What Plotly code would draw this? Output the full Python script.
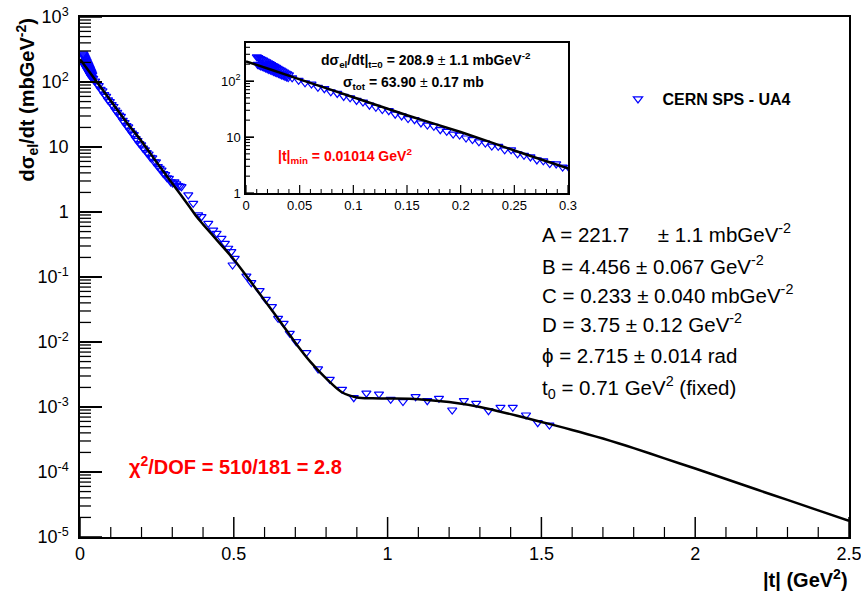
import plotly.graph_objects as go

# ---------------- data ----------------
t_data = [
    0.0101, 0.0108, 0.0115, 0.0123, 0.0130, 0.0138, 0.0145, 0.0153, 0.0160, 0.0168,
    0.0175, 0.0183, 0.0190, 0.0198, 0.0205, 0.0213, 0.0220, 0.0228, 0.0235, 0.0243,
    0.0250, 0.0258, 0.0265, 0.0273, 0.0280, 0.0288, 0.0295, 0.0303, 0.0310, 0.0318,
    0.0325, 0.0333, 0.0340, 0.0348, 0.0355, 0.0363, 0.0370, 0.0378, 0.0385, 0.0393,
    0.0400,
    0.043, 0.049, 0.055, 0.061, 0.067, 0.073, 0.079, 0.085, 0.091, 0.097,
    0.103, 0.109, 0.115, 0.121, 0.127, 0.133, 0.139, 0.145, 0.151, 0.157,
    0.163, 0.169, 0.175, 0.181, 0.187, 0.193, 0.199, 0.205, 0.211, 0.217,
    0.223, 0.229, 0.235, 0.241, 0.247, 0.253, 0.259, 0.265, 0.271, 0.277,
    0.283, 0.289, 0.295, 0.301, 0.307, 0.313, 0.319, 0.325,
    0.330, 0.352, 0.368, 0.384, 0.395, 0.417, 0.433, 0.444, 0.460, 0.471,
    0.482, 0.492, 0.496, 0.503, 0.541, 0.557, 0.584, 0.604, 0.624, 0.644,
    0.662, 0.682, 0.703, 0.736, 0.774, 0.812, 0.852, 0.890, 0.931, 0.972,
    1.010, 1.050, 1.091, 1.129, 1.167, 1.210, 1.248, 1.288, 1.328, 1.367,
    1.407, 1.450, 1.488, 1.526,
]
dsdt_data = [
    270, 198, 262, 192, 252, 186, 244, 181, 236, 176,
    228, 171, 220, 166, 212, 161, 204, 157, 196, 152,
    189, 148, 182, 144, 175, 140, 168, 136, 162, 132,
    156, 128, 150, 125, 145, 121, 139, 118, 134, 115,
    129,
    114, 103, 93, 88, 77, 73, 64, 60, 53, 50,
    45, 42, 37, 34, 31, 29.5, 25.6, 23.8, 21.3, 20.4,
    17.8, 16.3, 15.5, 13.5, 12.6, 11.3, 10.8, 9.6, 9.0, 8.2,
    7.8, 6.9, 6.8, 5.9, 5.9, 5.0, 4.7, 4.4, 3.9, 3.75,
    3.35, 3.3, 2.9, 2.8, 2.9, 2.7, 2.55, 2.5,
    2.45, 1.83, 1.36, 0.90, 0.847, 0.670, 0.528, 0.470, 0.394, 0.330,
    0.277, 0.245, 0.153, 0.194, 0.1035, 0.0817, 0.0617, 0.0454, 0.0349, 0.0231,
    0.0194, 0.0136, 0.0101, 0.00686, 0.00385, 0.00267, 0.00187, 0.00139, 0.00163, 0.00158,
    0.00131, 0.00121, 0.00144, 0.00125, 0.00136, 0.000899, 0.00125, 0.00114, 0.000877, 0.000989,
    0.000989, 0.000753, 0.000574, 0.000528,
]

fit_t = [0, 0.025, 0.05, 0.1, 0.15, 0.2, 0.25, 0.3, 0.35, 0.38,
         0.4, 0.45, 0.5, 0.55, 0.6, 0.65, 0.7, 0.75, 0.8, 0.85,
         0.9, 0.95, 1.0, 1.1, 1.2, 1.3, 1.4, 1.45, 1.5, 1.55,
         1.6, 1.65, 1.7, 1.75, 1.8, 1.9, 2.0, 2.1, 2.2, 2.3,
         2.4, 2.5]
fit_y = [224, 156, 107, 51.3, 24.5, 12.3, 5.75, 2.75, 1.32, 0.838,
         0.646, 0.347, 0.186, 0.0912, 0.0437, 0.0209, 0.00977, 0.0049, 0.00275, 0.0017,
         0.0014, 0.00136, 0.00135, 0.00132, 0.00119, 0.001, 0.000776, 0.000676, 0.000589, 0.000513,
         0.000443, 0.000382, 0.000327, 0.000277, 0.000233, 0.000162, 0.000113, 7.8e-5, 5.37e-5, 3.72e-5,
         2.57e-5, 1.78e-5]

x_tick_vals = [0, 0.5, 1, 1.5, 2, 2.5]
x_tick_text = ["0", "0.5", "1", "1.5", "2", "2.5"]
y_tick_vals = [1e-5, 1e-4, 1e-3, 1e-2, 1e-1, 1, 10, 100, 1000]
y_tick_text = ["10<sup>-5</sup>", "10<sup>-4</sup>", "10<sup>-3</sup>", "10<sup>-2</sup>",
               "10<sup>-1</sup>", "1", "10", "10<sup>2</sup>", "10<sup>3</sup>"]
inset_x_vals = [0, 0.05, 0.1, 0.15, 0.2, 0.25, 0.3]
inset_x_text = ["0", "0.05", "0.1", "0.15", "0.2", "0.25", "0.3"]
inset_y_vals = [1, 10, 100]
inset_y_text = ["1", "10", "10<sup>2</sup>"]

legend_name = "\u00a0<b>CERN SPS - UA4</b>"
param_lines = [
    "A = 221.7\u00a0\u00a0\u00a0\u00a0 ± 1.1 mbGeV<sup>-2</sup>",
    "B = 4.456 ± 0.067 GeV<sup>-2</sup>",
    "C = 0.233 ± 0.040 mbGeV<sup>-2</sup>",
    "D = 3.75 ± 0.12 GeV<sup>-2</sup>",
    "ϕ = 2.715 ± 0.014 rad",
    "t<sub>0</sub> = 0.71 GeV<sup>2</sup> (fixed)",
]

# ---------------- style ----------------
FONT = "Liberation Sans, Arial, Helvetica, sans-serif"
BLUE = "rgb(0,0,255)"
RED = "rgb(255,0,0)"

W, H = 861, 595
L, R, T, B = 80, 12, 17, 58
PW, PH = W - L - R, H - T - B

X_RANGE = [0, 2.5]
Y_RANGE = [-5, 3]          # log10
X2_RANGE = [0, 0.3]
Y2_RANGE = [0, 2.679]      # log10


def px(x):
    return (x - L) / PW


def py(y):
    return (H - B - y) / PH


MAIN_DOM_X = [0, 1]
MAIN_DOM_Y = [0, 1]
INS_DOM_X = [px(246), px(568)]
INS_DOM_Y = [py(193), py(43)]


def log_minors(lo, hi, top=None):
    vals = []
    for e in range(lo, hi):
        for m in range(2, 10):
            v = m * 10 ** e
            if top is None or v <= top:
                vals.append(v)
    return vals


def lin_minors(lo, hi, step, major):
    n = int(round((hi - lo) / step))
    out = []
    for i in range(n + 1):
        v = round(lo + i * step, 6)
        if abs(v / major - round(v / major)) > 1e-6:
            out.append(v)
    return out


def xticks(vals, rng, xr, yr, length, width):
    # inward ticks on a bottom axis, drawn in axis-domain coordinates
    out = []
    for v in vals:
        f = (v - rng[0]) / (rng[1] - rng[0])
        out.append(dict(type="line", xref=xr + " domain", yref=yr + " domain",
                        x0=f, x1=f, ysizemode="pixel", yanchor=0, y0=0, y1=length,
                        line=dict(color="black", width=width)))
    return out


def ytick_trace(vals, xrng, dom_x, length_px, width, xa, ya):
    # inward ticks on a left axis, as short line segments in data space
    plot_w = (dom_x[1] - dom_x[0]) * PW
    dx = length_px / plot_w * (xrng[1] - xrng[0])
    xs, ys = [], []
    for v in vals:
        xs += [xrng[0], xrng[0] + dx, None]
        ys += [v, v, None]
    return go.Scatter(x=xs, y=ys, mode="lines", line=dict(color="black", width=width),
                      showlegend=False, hoverinfo="skip", xaxis=xa, yaxis=ya,
                      cliponaxis=False)


fig = go.Figure()

marker = dict(symbol="triangle-down-open", size=8, color=BLUE, line=dict(color=BLUE, width=1.2))

fig.add_trace(go.Scatter(x=t_data, y=dsdt_data, mode="markers", marker=marker,
                         name=legend_name, showlegend=True, xaxis="x", yaxis="y"))
fig.add_trace(go.Scatter(x=fit_t, y=fit_y, mode="lines",
                         line=dict(color="black", width=2.5, shape="spline", smoothing=0.8),
                         showlegend=False, xaxis="x", yaxis="y"))

ins_t = [t for t in t_data if t <= 0.305]
ins_y = [y for t, y in zip(t_data, dsdt_data) if t <= 0.305]
fit_ins_t = [t for t in fit_t if t <= 0.35]
fit_ins_y = [y for t, y in zip(fit_t, fit_y) if t <= 0.35]
fig.add_trace(go.Scatter(x=ins_t, y=ins_y, mode="markers", marker=marker,
                         showlegend=False, xaxis="x2", yaxis="y2"))
fig.add_trace(go.Scatter(x=fit_ins_t, y=fit_ins_y, mode="lines",
                         line=dict(color="black", width=2.5, shape="spline", smoothing=0.5),
                         showlegend=False, xaxis="x2", yaxis="y2"))

# y-axis tick marks (major + minor) for main plot and inset
fig.add_trace(ytick_trace(y_tick_vals, X_RANGE, MAIN_DOM_X, 22, 1.6, "x", "y"))
fig.add_trace(ytick_trace(log_minors(-5, 3), X_RANGE, MAIN_DOM_X, 11, 1.3, "x", "y"))
fig.add_trace(ytick_trace(inset_y_vals, X2_RANGE, INS_DOM_X, 8, 1.3, "x2", "y2"))
fig.add_trace(ytick_trace(log_minors(0, 3, top=470), X2_RANGE, INS_DOM_X, 4, 1.1, "x2", "y2"))

axis_common = dict(showgrid=False, zeroline=False, showline=True, linecolor="black",
                   mirror=True, automargin=False, ticklabeloverflow="allow")

fig.update_layout(
    template="none",
    width=W, height=H,
    margin=dict(l=L, r=R, t=T, b=B, autoexpand=False),
    paper_bgcolor="white", plot_bgcolor="rgba(0,0,0,0)",
    font=dict(family=FONT, color="black"),
    xaxis=dict(domain=MAIN_DOM_X, anchor="y", range=X_RANGE, tickmode="array",
               tickvals=x_tick_vals, ticktext=x_tick_text, ticks="",
               linewidth=1.5, tickfont=dict(size=18), ticklabelstandoff=0, **axis_common),
    yaxis=dict(domain=MAIN_DOM_Y, anchor="x", type="log", range=Y_RANGE, tickmode="array",
               tickvals=y_tick_vals, ticktext=y_tick_text, ticks="inside", ticklen=22,
               tickwidth=1.5, tickcolor="black",
               linewidth=1.5, tickfont=dict(size=18), ticklabelstandoff=6, **axis_common),
    xaxis2=dict(domain=INS_DOM_X, anchor="y2", range=X2_RANGE, tickmode="array",
                tickvals=inset_x_vals, ticktext=inset_x_text, ticks="",
                linewidth=1.5, tickfont=dict(size=13), ticklabelstandoff=0, **axis_common),
    yaxis2=dict(domain=INS_DOM_Y, anchor="x2", type="log", range=Y2_RANGE,
                tickmode="array", tickvals=inset_y_vals, ticktext=inset_y_text,
                ticks="inside", ticklen=8, tickwidth=1.2, tickcolor="black",
                linewidth=1.5, tickfont=dict(size=13), ticklabelstandoff=1, **axis_common),
    legend=dict(x=px(618), y=py(99), xanchor="left", yanchor="middle",
                bgcolor="rgba(0,0,0,0)", font=dict(size=16, family=FONT),
                itemwidth=30),
    showlegend=True,
)

shapes = []
shapes += xticks(x_tick_vals, X_RANGE, "x", "y", 20, 1.5)
shapes += xticks(lin_minors(0, 2.5, 0.1, 0.5), X_RANGE, "x", "y", 10, 1.2)
shapes += xticks(inset_x_vals, X2_RANGE, "x2", "y2", 8, 1.2)
shapes += xticks(lin_minors(0, 0.3, 0.01, 0.05), X2_RANGE, "x2", "y2", 4, 1.0)
fig.update_layout(shapes=shapes)

ann = []
ann.append(dict(text="<b>dσ<sub>el</sub>/dt (mbGeV<sup>-2</sup>)</b>", textangle=-90,
                x=px(27), y=py(17), xanchor="center", yanchor="top",
                font=dict(size=20)))
ann.append(dict(text="<b>|t| (GeV<sup>2</sup>)</b>", x=px(850), y=py(578),
                xanchor="right", yanchor="middle", font=dict(size=20)))
ann.append(dict(text="<b>dσ<sub>el</sub>/dt|<sub>t=0</sub> = 208.9</b> ± <b>1.1 mbGeV<sup>-2</sup></b>",
                x=px(319), y=py(60), xanchor="left", yanchor="middle", font=dict(size=14)))
ann.append(dict(text="<b>σ<sub>tot</sub> = 63.90</b> ± <b>0.17 mb</b>",
                x=px(341), y=py(83), xanchor="left", yanchor="middle", font=dict(size=14)))
ann.append(dict(text="<b>|t|<sub>min</sub> = 0.01014 GeV<sup>2</sup></b>",
                x=px(276), y=py(156), xanchor="left", yanchor="middle",
                font=dict(size=14, color=RED)))
param_y = [233, 265, 294, 323, 355, 387]
for txt, yy in zip(param_lines, param_y):
    ann.append(dict(text=txt, x=px(540), y=py(yy), xanchor="left", yanchor="middle",
                    font=dict(size=20.5)))
ann.append(dict(text="<b>χ<sup>2</sup>/DOF = 510/181 = 2.8</b>", x=px(127), y=py(465),
                xanchor="left", yanchor="middle", font=dict(size=20, color=RED)))

for a in ann:
    a.update(xref="paper", yref="paper", showarrow=False)
fig.update_layout(annotations=ann)

fig.write_html("out.html")
